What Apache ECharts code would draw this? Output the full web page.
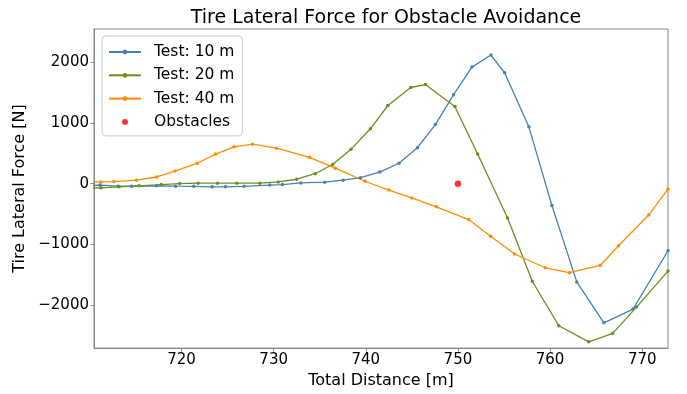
<!DOCTYPE html>
<html>
<head>
<meta charset="utf-8">
<script src="https://cdn.jsdelivr.net/npm/echarts@6/dist/echarts.min.js"></script>
<style>html,body{margin:0;padding:0;background:#fff}#c{width:687px;height:394px}</style>
</head>
<body>
<div id="c"></div>
<script>
const xTicks = [720, 730, 740, 750, 760, 770];
const yTicks = [-2000, -1000, 0, 1000, 2000];

const blueX = [709.5, 711.14, 713.12, 714.58, 717.29, 719.35, 721.33, 723.32, 724.77, 726.79, 729.58, 730.95, 732.94, 735.54, 737.53, 739.41, 741.51, 743.6, 745.6, 747.55, 749.53, 751.52, 753.58, 755.07, 757.7, 760.2, 762.9, 765.84, 769.0, 772.8];
const blueY = [-30, -24, -41, -41, -36, -41, -44, -52, -52, -44, -24, -15, 13, 24, 57, 99, 191, 337, 592, 974, 1467, 1921, 2120, 1828, 937, -360, -1619, -2293, -2067, -1105];

const greenX = [709.5, 711.26, 713.23, 715.4, 717.8, 719.8, 721.8, 723.9, 726.0, 728.5, 730.5, 732.5, 734.5, 736.4, 738.4, 740.5, 742.4, 744.87, 746.46, 749.67, 752.14, 755.39, 758.07, 760.95, 764.2, 766.8, 769.38, 772.8];
const greenY = [-75, -68, -52, -36, -15, 2, 8, 8, 8, 8, 29, 73, 164, 316, 569, 904, 1288, 1585, 1634, 1272, 488, -566, -1608, -2342, -2607, -2467, -2034, -1441];

const orangeX = [709.5, 711.25, 712.66, 715.1, 717.3, 719.3, 721.7, 723.7, 725.7, 727.7, 730.3, 733.9, 736.7, 739.9, 742.5, 745.0, 747.66, 751.16, 753.55, 756.15, 759.48, 762.1, 765.44, 767.43, 770.7, 772.8];
const orangeY = [25, 29, 34, 57, 110, 207, 337, 488, 608, 650, 585, 434, 256, 40, -105, -235, -381, -592, -867, -1159, -1386, -1467, -1348, -1024, -517, -89];

const obstacleX = [750];
const obstacleY = [0];

const names = ['Test: 10 m', 'Test: 20 m', 'Test: 40 m', 'Obstacles'];
const colors = ['#4682b4', '#6b8e23', '#ff8c00', '#ff0000'];

function zip(a, b) { return a.map((v, i) => [v, b[i]]); }

const FONT = 'DejaVu Sans';
const chart = echarts.init(document.getElementById('c'), null, {renderer: 'canvas'});

function lineSeries(i, xs, ys) {
  return {
    name: names[i], type: 'line', data: zip(xs, ys),
    symbol: 'circle', symbolSize: 3.5, showSymbol: true,
    lineStyle: {color: colors[i], width: 1.3},
    itemStyle: {color: colors[i]},
    emphasis: {disabled: true}, animation: false, clip: true
  };
}

chart.setOption({
  backgroundColor: '#ffffff',
  animation: false,
  title: {
    text: 'Tire Lateral Force for Obstacle Avoidance',
    left: 381, top: 4, textAlign: 'center',
    textStyle: {fontFamily: FONT, fontSize: 19, fontWeight: 'normal', color: '#000'}
  },
  legend: {
    orient: 'vertical', left: 102, top: 36,
    padding: [7, 8, 5, 6],
    itemWidth: 32, itemHeight: 6, itemGap: 5.3,
    backgroundColor: 'rgba(255,255,255,0.8)',
    borderColor: '#cccccc', borderWidth: 1, borderRadius: 4,
    textStyle: {fontFamily: FONT, fontSize: 15.5, color: '#000', lineHeight: 18, padding: [0, 0, 0, 8]},
    data: names.map((n, i) => ({name: n})),
  },
  grid: {left: 94, right: 19, top: 29, bottom: 40, containLabel: false,
    show: true, borderColor: '#888', borderWidth: 1, backgroundColor: 'transparent'},
  xAxis: {
    type: 'value', min: 710.5, max: 772.8,
    name: 'Total Distance [m]', nameLocation: 'middle', nameGap: 24,
    nameTextStyle: {fontFamily: FONT, fontSize: 16, color: '#000'},
    axisLine: {show: true, onZero: false, lineStyle: {color: '#888', width: 1}},
    axisTick: {show: true, length: 3.5, customValues: xTicks, lineStyle: {color: '#888'}},
    axisLabel: {customValues: xTicks, fontFamily: FONT, fontSize: 15, color: '#000', margin: 5},
    splitLine: {show: false}
  },
  yAxis: {
    type: 'value', min: -2710, max: 2549,
    name: 'Tire Lateral Force [N]', nameLocation: 'middle', nameGap: 57, nameRotate: 90,
    nameTextStyle: {fontFamily: FONT, fontSize: 16, color: '#000'},
    axisLine: {show: true, onZero: false, lineStyle: {color: '#888', width: 1}},
    axisTick: {show: true, length: 3.5, customValues: yTicks, lineStyle: {color: '#888'}},
    axisLabel: {customValues: yTicks, fontFamily: FONT, fontSize: 15, color: '#000', margin: 5,
      formatter: v => v < 0 ? '\u2212' + Math.abs(v) : String(v)},
    splitLine: {show: false}
  },
  series: [
    lineSeries(0, blueX, blueY),
    lineSeries(1, greenX, greenY),
    lineSeries(2, orangeX, orangeY),
    {
      name: names[3], type: 'scatter', data: zip(obstacleX, obstacleY),
      symbol: 'circle', symbolSize: 6.5, itemStyle: {color: colors[3]},
      emphasis: {disabled: true}, z: 5
    }
  ]
});
</script>
</body>
</html>
